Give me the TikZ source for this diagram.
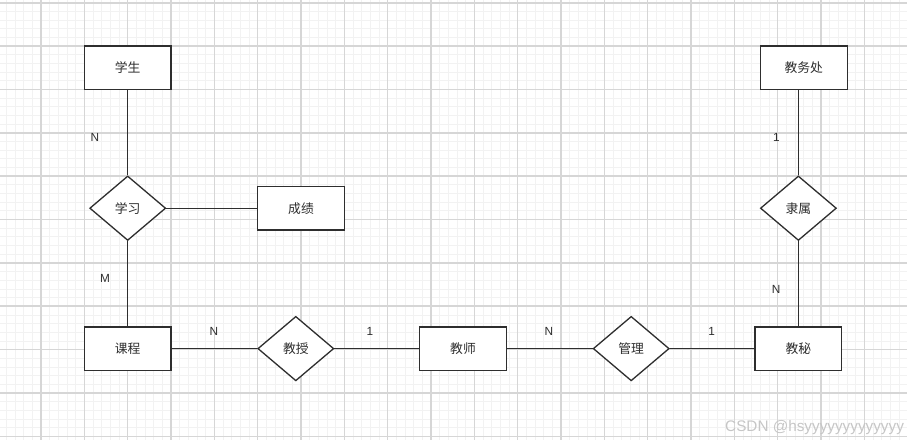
\documentclass[tikz,border=0pt]{standalone}
\usepackage{fontspec}
\setmainfont{Liberation Sans}
\newfontfamily\cjk{Noto Sans CJK SC}
\usetikzlibrary{shapes.geometric}
\definecolor{gmajor}{HTML}{D6D6D6}
\definecolor{gminor}{HTML}{F2F2F2}
\definecolor{ink}{HTML}{2E2E2E}
\definecolor{wm}{HTML}{C6C6C6}
\begin{document}
\begin{tikzpicture}[x=1pt,y=-1pt,
  entity/.style={rectangle, draw=ink, line width=1.3pt, fill=white,
    minimum width=86.7pt, minimum height=43.3pt, inner sep=0pt,
    text=ink, font=\cjk\fontsize{12.8}{14}\selectfont},
  rel/.style={diamond, draw=ink, line width=1.3pt, fill=white,
    minimum width=76pt, minimum height=64.5pt, inner sep=0pt,
    text=ink, font=\cjk\fontsize{12.8}{14}\selectfont},
  card/.style={inner sep=0pt, text=ink, font=\fontsize{11.8}{13}\selectfont},
  conn/.style={draw=ink, line width=1.3pt},
  minorline/.style={draw=gminor, line width=0.7pt},
  majorline/.style={draw=gmajor, line width=1.4pt}]
\useasboundingbox (0,0) rectangle (907,440);
\fill[white] (0,0) rectangle (907,440);
% grid
\foreach \i in {-5,...,105} {
  \draw[minorline] ({41+8.668*\i},0) -- ({41+8.668*\i},440);
}
\foreach \i in {-1,...,51} {
  \draw[minorline] (0,{2.8+8.668*\i}) -- (907,{2.8+8.668*\i});
}
\foreach \i in {-1,...,21} {
  \draw[majorline] ({41+43.34*\i},0) -- ({41+43.34*\i},440);
}
\foreach \i in {0,...,10} {
  \draw[majorline] (0,{2.8+43.34*\i}) -- (907,{2.8+43.34*\i});
}
% nodes
\node[entity] (xs)  at (127.7,67.7)  {学生};
\node[rel]    (xx)  at (127.7,208.2) {学习};
\node[entity] (cj)  at (301.0,208.2) {成绩};
\node[entity] (kc)  at (127.7,348.6) {课程};
\node[rel]    (jsq) at (295.8,348.6) {教授};
\node[entity] (jsh) at (463.0,348.6) {教师};
\node[rel]    (gl)  at (631.2,348.6) {管理};
\node[entity] (jm)  at (798.4,348.6) {教秘};
\node[rel]    (ls)  at (798.4,208.2) {隶属};
\node[entity] (jwc) at (803.8,67.7)  {教务处};
% connectors
\draw[conn] (xs) -- (xx);
\draw[conn] (xx) -- (cj);
\draw[conn] (xx) -- (kc);
\draw[conn] (kc) -- (jsq);
\draw[conn] (jsq) -- (jsh);
\draw[conn] (jsh) -- (gl);
\draw[conn] (gl) -- (jm);
\draw[conn] (jm) -- (ls);
\draw[conn] (ls.north) -- (ls.north |- jwc.south);
% cardinalities
\node[card] (c1) at (95,137.3) {N};
\node[card] (c2) at (105,278.3) {M};
\node[card] (c3) at (214,331.7) {N};
\node[card] (c4) at (370,331.7) {1};
\node[card] (c5) at (549,331.7) {N};
\node[card] (c6) at (711.7,331.7) {1};
\node[card] (c7) at (776,289) {N};
\node[card] (c8) at (776.3,137.3) {1};
% watermark
\node[anchor=base west, inner sep=0pt, text=wm, font=\fontsize{15.3}{17}\selectfont] (wmk) at (725,431.5) {CSDN @hsyyyyyyyyyyyyy};
\end{tikzpicture}
\end{document}
